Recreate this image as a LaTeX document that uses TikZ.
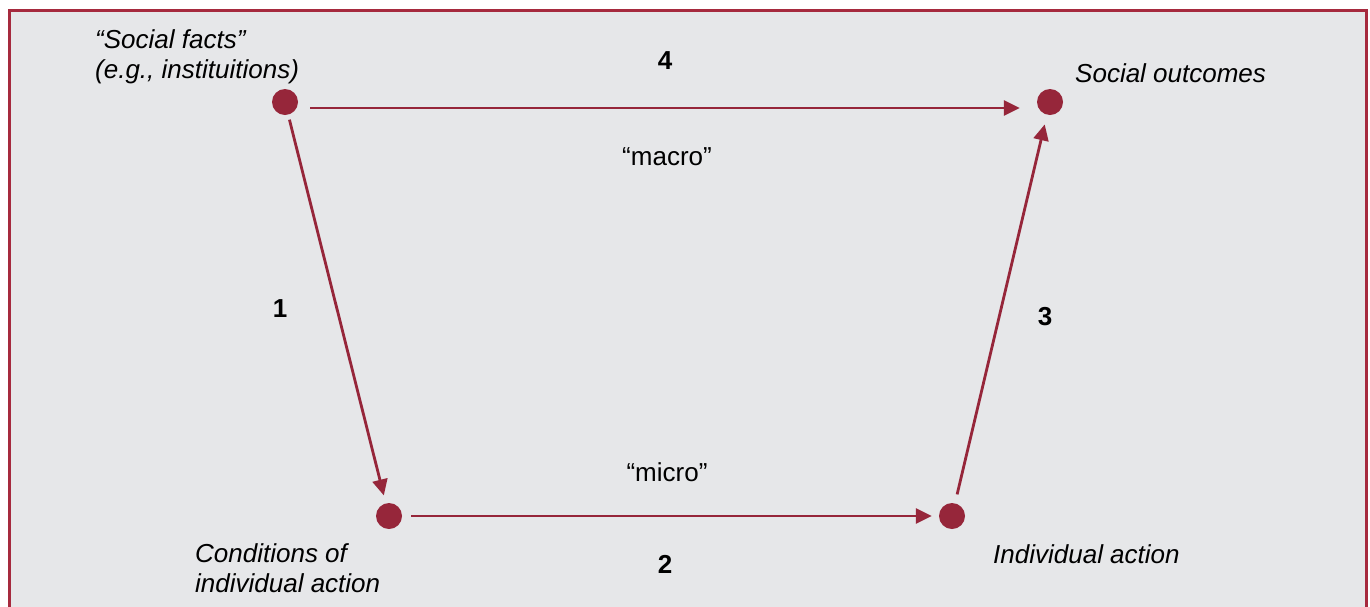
\documentclass[tikz,border=0pt]{standalone}
\usepackage{fontspec}
\setmainfont{Liberation Sans}
\usetikzlibrary{arrows.meta,positioning}
\definecolor{macroRed}{RGB}{150,38,58}
\definecolor{frameRed}{RGB}{166,42,62}
\definecolor{paneGray}{RGB}{230,231,233}

\begin{document}
\begin{tikzpicture}[x=1pt,y=-1pt,font=\fontsize{26}{30}\selectfont,
		dot/.style={circle,fill=macroRed,minimum size=26pt,inner sep=0pt},
		link/.style={draw=macroRed,line width=2.8pt,-{Triangle[length=16pt,width=15pt]}},
		lbl/.style={inner sep=0pt,align=left,font=\fontsize{26}{30}\selectfont\itshape},
		num/.style={inner sep=0pt,font=\fontsize{26}{30}\selectfont\bfseries},
		tag/.style={inner sep=0pt}]
		\useasboundingbox (0,0) rectangle (1370,606);
		\clip (0,0) rectangle (1370,606);
		\fill[white] (0,0) rectangle (1370,606);
		\draw[frameRed,line width=3pt,fill=paneGray] (9,10) rectangle (1366,640);
		\foreach \N/\P in {facts/{(285,102)},outcomes/{(1050,102)},cond/{(389,516)},act/{(952,516)}}
		{\node[dot] (\N) at \P {};}
		\node[lbl,anchor=base west] (facts-lbl) at (95,78) {“Social facts”\\(e.g., instituitions)};
		\node[lbl,anchor=base west] (outcomes-lbl) at (1075,82) {Social outcomes};
		\node[lbl,anchor=base west] (cond-lbl) at (195,592) {Conditions of\\individual action};
		\node[lbl,anchor=base west] (act-lbl) at (993,563) {Individual action};
		\node[num,anchor=base] (n4) at (665,69) {4};
		\node[tag,anchor=base] (macro) at (667,165) {“macro”};
		\node[tag,anchor=base] (micro) at (667,481) {“micro”};
		\node[num,anchor=base] (n2) at (665,573) {2};
		\node[num,anchor=base] (n1) at (280,317) {1};
		\node[num,anchor=base] (n3) at (1045,325) {3};
		\draw[link,shorten <=12pt,shorten >=17pt] ([yshift=-6pt]facts.east) -- ([yshift=-6pt]outcomes.west);
		\draw[link,shorten <=5pt,shorten >=8pt] (facts) -- (cond);
		\draw[link,shorten <=9pt,shorten >=7pt] (cond) -- (act);
		\draw[link,shorten <=9pt,shorten >=23pt] (act) -- (outcomes.center);
\end{tikzpicture}
\end{document}
